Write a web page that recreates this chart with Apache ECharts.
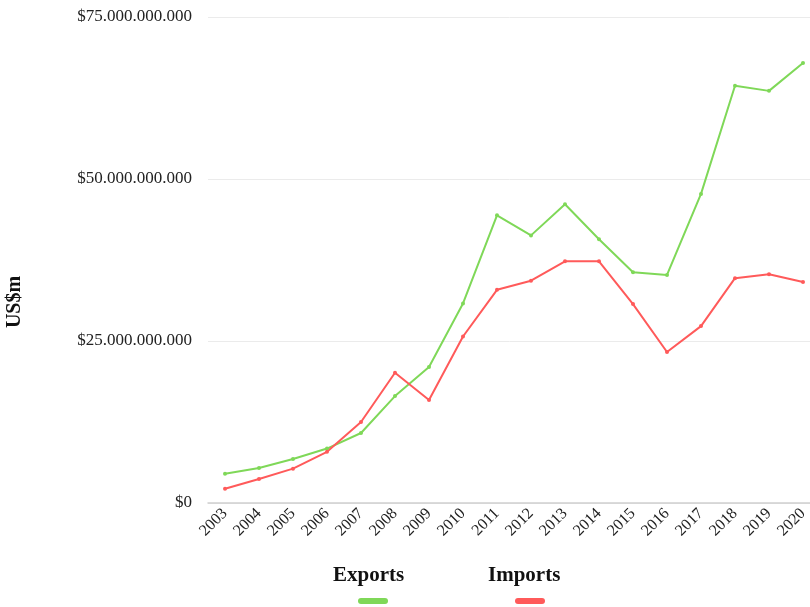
<!DOCTYPE html>
<html>
<head>
<meta charset="utf-8">
<script src="https://cdn.jsdelivr.net/npm/echarts@6/dist/echarts.min.js"></script>
<style>
  html, body { margin: 0; padding: 0; background: #fff; }
  #chart { width: 810px; height: 607px; }
</style>
</head>
<body>
<div id="chart"></div>
<script>
var years = ["2003", "2004", "2005", "2006", "2007", "2008", "2009", "2010", "2011",
  "2012", "2013", "2014", "2015", "2016", "2017", "2018", "2019", "2020"];

// billions of US$
var exportsB = [4.5, 5.4, 6.8, 8.4, 10.8, 16.5, 21.0, 30.8, 44.4,
  41.3, 46.1, 40.7, 35.6, 35.2, 47.7, 64.4, 63.6, 67.9];
var importsB = [2.2, 3.7, 5.3, 7.9, 12.5, 20.1, 15.9, 25.7, 32.9,
  34.3, 37.3, 37.3, 30.7, 23.3, 27.3, 34.7, 35.3, 34.1];

var seriesNames = ["Exports", "Imports"];
var colors = ["#7fd858", "#ff5a5a"];

var yTicks = { min: 0, max: 75e9, interval: 25e9 };

function toUsd(arr) {
  return arr.map(function (v) { return Math.round(v * 1e9); });
}

function fmtMoney(v) {
  return "$" + String(Math.round(v)).replace(/\B(?=(\d{3})+(?!\d))/g, ".");
}

var chart = echarts.init(document.getElementById("chart"));
var serif = "'Liberation Serif', 'DejaVu Serif', serif";
var pill = "path://M3,0 H27 A3,3 0 0 1 27,6 H3 A3,3 0 0 1 3,0 Z";

var option = {
  animation: false,
  color: colors,
  textStyle: { fontFamily: serif },
  grid: { left: 208, width: 612, top: 17, height: 486, outerBoundsMode: "none", containLabel: false },
  legend: {
    data: seriesNames.map(function (n) { return { name: n, icon: pill }; }),
    top: 593,
    left: 353,
    itemWidth: 30,
    itemHeight: 6,
    itemGap: 127,
    formatter: function () { return ""; }
  },
  graphic: [
    {
      type: "text", left: 333, top: 565,
      style: { text: seriesNames[0], font: "bold 21px " + serif, fill: "#111" }
    },
    {
      type: "text", left: 488, top: 565,
      style: { text: seriesNames[1], font: "bold 21px " + serif, fill: "#111" }
    }
  ],
  xAxis: {
    type: "category",
    data: years,
    boundaryGap: true,
    axisLine: { lineStyle: { color: "#d0d0d0", width: 1.5 } },
    axisTick: { show: false },
    axisLabel: { rotate: 45, fontSize: 16, color: "#222", margin: 8, fontFamily: serif }
  },
  yAxis: {
    type: "value",
    min: yTicks.min,
    max: yTicks.max,
    interval: yTicks.interval,
    name: "US$m",
    nameLocation: "middle",
    nameGap: 183,
    nameTextStyle: { fontSize: 20, fontWeight: "bold", color: "#111", fontFamily: serif, padding: [0, 84, 0, 0] },
    axisLine: { show: false },
    axisTick: { show: false },
    splitLine: { lineStyle: { color: "#ebebeb" } },
    axisLabel: { fontSize: 17, color: "#222", margin: 16, formatter: fmtMoney, fontFamily: serif }
  },
  series: [
    {
      name: seriesNames[0],
      type: "line",
      data: toUsd(exportsB),
      symbol: "circle",
      symbolSize: 4,
      lineStyle: { width: 2 }
    },
    {
      name: seriesNames[1],
      type: "line",
      data: toUsd(importsB),
      symbol: "circle",
      symbolSize: 4,
      lineStyle: { width: 2 }
    }
  ]
};

chart.setOption(option);
</script>
</body>
</html>
